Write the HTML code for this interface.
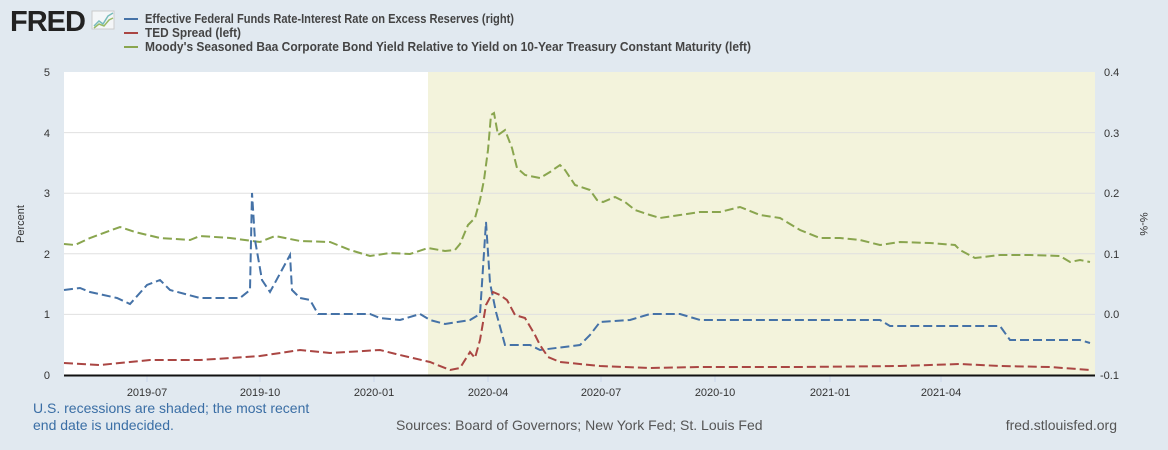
<!DOCTYPE html>
<html><head><style>
body{margin:0;width:1168px;height:450px;background:#e1e9f0;font-family:"Liberation Sans",sans-serif;overflow:hidden;position:relative}
</style></head><body>
<svg width="1168" height="450" style="position:absolute;left:0;top:0" font-family="Liberation Sans, sans-serif">
<text x="10" y="31" font-size="29" font-weight="bold" fill="#222" letter-spacing="-1">FRED</text>
<rect x="92" y="11" width="22" height="18" fill="#f4f6f8" stroke="#ccc"/>
<polyline points="94,26 99,21 103,24 108,16 113,13" fill="none" stroke="#7bb" stroke-width="1.5"/>
<polyline points="94,28 99,24 104,26 109,20 113,18" fill="none" stroke="#9b6" stroke-width="1.5"/>
<g font-size="12.5" fill="#444" font-weight="bold">
<line x1="124" y1="19" x2="138" y2="19" stroke="#4572a7" stroke-width="2"/><text x="145" y="23" textLength="369" lengthAdjust="spacingAndGlyphs">Effective Federal Funds Rate-Interest Rate on Excess Reserves (right)</text>
<line x1="124" y1="33" x2="138" y2="33" stroke="#aa4643" stroke-width="2"/><text x="145" y="37" textLength="96" lengthAdjust="spacingAndGlyphs">TED Spread (left)</text>
<line x1="124" y1="47" x2="138" y2="47" stroke="#89a54e" stroke-width="2"/><text x="145" y="51" textLength="606" lengthAdjust="spacingAndGlyphs">Moody's Seasoned Baa Corporate Bond Yield Relative to Yield on 10-Year Treasury Constant Maturity (left)</text>
</g>
<rect x="64" y="72" width="1031" height="303" fill="#fff"/>
<rect x="428" y="72" width="667" height="303" fill="#f3f3dc"/>
<g stroke="#e0e0e0" stroke-width="1">
<line x1="64" y1="132.6" x2="1095" y2="132.6"/><line x1="64" y1="193.2" x2="1095" y2="193.2"/><line x1="64" y1="253.8" x2="1095" y2="253.8"/><line x1="64" y1="314.4" x2="1095" y2="314.4"/>
</g>
<g font-size="11" fill="#333" text-anchor="end">
<text x="50" y="76">5</text><text x="50" y="137">4</text><text x="50" y="197">3</text><text x="50" y="258">2</text><text x="50" y="318">1</text><text x="50" y="379">0</text>
</g>
<g font-size="11" fill="#333">
<text x="1104" y="76">0.4</text><text x="1104" y="137">0.3</text><text x="1104" y="197">0.2</text><text x="1104" y="258">0.1</text><text x="1104" y="318">0.0</text><text x="1100" y="379">-0.1</text>
</g>
<text transform="translate(24,224) rotate(-90)" font-size="11" fill="#333" text-anchor="middle">Percent</text>
<text transform="translate(1140,224) rotate(90)" font-size="11" fill="#333" text-anchor="middle">%-%</text>
<g font-size="11" fill="#333" text-anchor="middle">
<text x="147" y="396">2019-07</text><text x="260" y="396">2019-10</text><text x="374" y="396">2020-01</text><text x="488" y="396">2020-04</text><text x="601" y="396">2020-07</text><text x="715" y="396">2020-10</text><text x="830" y="396">2021-01</text><text x="941" y="396">2021-04</text>
</g>
<g stroke="#ccd6eb"><line x1="147" y1="376" x2="147" y2="382"/><line x1="260" y1="376" x2="260" y2="382"/><line x1="374" y1="376" x2="374" y2="382"/><line x1="488" y1="376" x2="488" y2="382"/><line x1="601" y1="376" x2="601" y2="382"/><line x1="715" y1="376" x2="715" y2="382"/><line x1="830" y1="376" x2="830" y2="382"/><line x1="941" y1="376" x2="941" y2="382"/></g>
<g fill="none" stroke-width="2" stroke-dasharray="9,4">
<polyline stroke="#89a54e" points="64,244 75,245 90,238 120,227 135,232 160,238 190,240 200,236 230,238 260,242 275,236 300,241 330,242 350,250 370,256 390,253 410,254 428,248 445,251 455,250 460,244 468,225 475,218 480,200 484,180 488,150 491,115 494,113 498,135 505,130 512,148 517,168 525,175 540,178 550,172 560,165 565,170 575,185 590,190 597,200 603,202 615,197 625,202 635,210 650,215 660,218 680,215 700,212 720,212 740,207 760,215 780,218 800,230 820,238 840,238 860,240 880,245 900,242 930,243 955,245 960,250 975,258 1000,255 1030,255 1060,256 1070,262 1080,260 1090,262"/>
<polyline stroke="#4572a7" points="64,290 80,288 90,292 117,298 130,304 147,285 160,280 170,290 200,298 240,298 250,290 252,193 255,240 262,280 270,292 290,255 292,290 300,298 310,300 318,314 370,314 380,318 400,320 420,314 430,320 445,324 470,320 480,314 486,222 490,283 496,312 505,345 530,345 540,350 580,345 590,335 600,322 630,320 650,314 680,314 700,320 800,320 820,320 880,320 890,326 1000,326 1010,340 1080,340 1090,343"/>
<polyline stroke="#aa4643" points="64,363 100,365 150,360 200,360 260,356 300,350 330,353 380,350 400,355 430,362 450,370 460,368 470,352 475,358 480,340 486,305 493,292 500,295 507,300 515,315 525,318 535,335 540,345 548,357 560,362 600,366 650,368 700,367 800,367 900,366 960,364 1000,366 1050,367 1090,370"/>
</g>
<line x1="64" y1="375.5" x2="1095" y2="375.5" stroke="#111" stroke-width="2"/>
<g font-size="14">
<text x="33" y="413" fill="#3a6ea5">U.S. recessions are shaded; the most recent</text>
<text x="33" y="430" fill="#3a6ea5">end date is undecided.</text>
<text x="396" y="430" fill="#555">Sources: Board of Governors; New York Fed; St. Louis Fed</text>
<text x="1117" y="430" fill="#555" text-anchor="end">fred.stlouisfed.org</text>
</g>
</svg>
</body></html>
